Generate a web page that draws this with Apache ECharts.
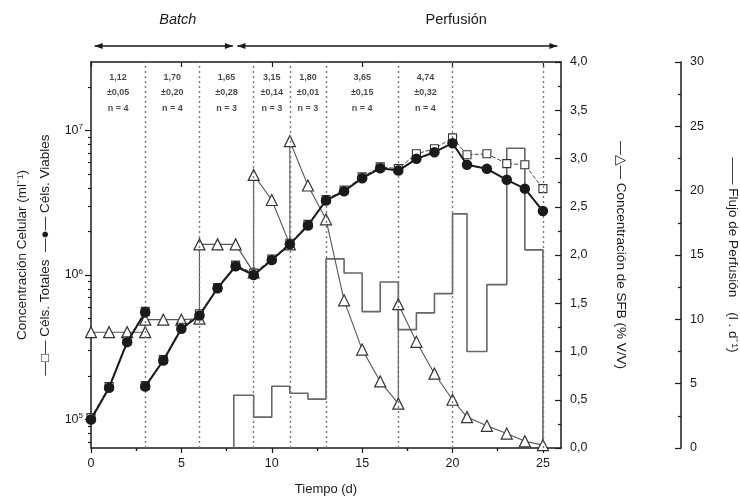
<!DOCTYPE html>
<html><head><meta charset="utf-8">
<script src="https://cdn.jsdelivr.net/npm/echarts@6/dist/echarts.min.js"></script>
<style>html,body{margin:0;padding:0;background:#fff}#c{width:740px;height:503px}</style>
</head><body><div id="c"></div>
<script>
// ---- data ----
// Viable cells (ml^-1), two cultures (split at day 3)
const viableDaysA = [0, 1, 2, 3];
const viableA = [1.0e5, 1.66e5, 3.43e5, 5.53e5];
const viableDaysB = [3, 4, 5, 6, 7, 8, 9, 10, 11, 12, 13, 14, 15, 16, 17, 18, 19, 20, 20.8, 21.9, 23, 24, 25];
const viableB = [1.69e5, 2.56e5, 4.25e5, 5.25e5, 8.1e5, 1.15e6, 1.0e6, 1.27e6, 1.63e6, 2.2e6, 3.28e6, 3.8e6, 4.68e6, 5.48e6, 5.28e6, 6.37e6, 7.08e6, 8.17e6, 5.8e6, 5.43e6, 4.56e6, 3.96e6, 2.77e6];
// Total cells (ml^-1)
const totalA = [1.03e5, 1.69e5, 3.5e5, 5.6e5];
const totalB = [1.72e5, 2.6e5, 4.35e5, 5.4e5, 8.2e5, 1.17e6, 1.03e6, 1.29e6, 1.66e6, 2.24e6, 3.33e6, 3.88e6, 4.78e6, 5.6e6, 5.45e6, 6.9e6, 7.47e6, 8.9e6, 6.8e6, 6.9e6, 5.9e6, 5.8e6, 3.96e6];
// SFB concentration (% V/V)
const sfbDays = [0, 1, 2, 3, 3, 4, 5, 6, 6, 7, 8, 9, 9, 10, 11, 11, 12, 13, 14, 15, 16, 17, 17, 18, 19, 20, 20.8, 21.9, 23, 24, 25];
const sfbValues = [1.2, 1.2, 1.2, 1.2, 1.33, 1.33, 1.33, 1.34, 2.11, 2.11, 2.11, 1.82, 2.83, 2.57, 2.11, 3.18, 2.72, 2.37, 1.53, 1.02, 0.69, 0.46, 1.49, 1.10, 0.77, 0.50, 0.32, 0.23, 0.15, 0.07, 0.03];
// Perfusion flow (l . d^-1), step changes
const flowDays = [7.9, 7.9, 9, 10, 11, 12, 13, 14, 15, 16, 17, 18, 19, 20, 20.8, 21.9, 23, 24, 25];
const flowRates = [0, 4.1, 2.4, 4.8, 4.25, 3.8, 14.7, 13.6, 10.6, 12.9, 9.2, 10.5, 12.0, 18.2, 7.5, 12.7, 23.3, 15.4, 0];
// Phase boundaries (dotted lines) and statistics per phase
const phaseBounds = [0, 3, 6, 9, 11, 13, 17, 20, 25];
const phaseMean = ['1,12', '1,70', '1,65', '3,15', '1,80', '3,65', '4,74'];
const phaseSD = ['±0,05', '±0,20', '±0,28', '±0,14', '±0,01', '±0,15', '±0,32'];
const phaseN = ['n = 4', 'n = 4', 'n = 3', 'n = 3', 'n = 3', 'n = 4', 'n = 4'];
// Axis ticks
const xMajor = [0, 5, 10, 15, 20, 25];
const xMinor = [2.5, 7.5, 12.5, 17.5, 22.5];
const logMajor = [1e5, 1e6, 1e7];
const logMinor = [7e4, 8e4, 9e4, 2e5, 3e5, 4e5, 5e5, 6e5, 7e5, 8e5, 9e5, 2e6, 3e6, 4e6, 5e6, 6e6, 7e6, 8e6, 9e6, 2e7];

// ---- chart ----
const zip = (a, b) => a.map((v, i) => [v, b[i]]);
const FONT = "'Liberation Sans', Arial, sans-serif";
const INK = '#1a1a1a';
const LOGMIN = 63500, LOGMAX = 2.98e7;
const axisLine = { show: true, onZero: false, lineStyle: { color: INK, width: 1.5 } };
const tickStyle = { color: INK, width: 1.2 };
const chart = echarts.init(document.getElementById('c'));

const centers = phaseMean.map((_, i) => (phaseBounds[i] + phaseBounds[i + 1]) / 2);

const option = {
  animation: false,
  backgroundColor: '#fff',
  textStyle: { fontFamily: FONT },
  grid: { left: 91, right: 179, top: 62, bottom: 55, containLabel: false, outerBoundsMode: 'none' },
  xAxis: [
    { type: 'value', min: 0, max: 26, position: 'bottom', axisLine,
      axisTick: { show: true, length: 5, lineStyle: tickStyle, customValues: xMajor },
      axisLabel: { customValues: xMajor, color: INK, fontSize: 12.5, margin: 9, fontFamily: FONT },
      splitLine: { show: false },
      name: 'Tiempo (d)', nameLocation: 'middle', nameGap: 35, nameMoveOverlap: false,
      nameTextStyle: { color: INK, fontSize: 13, fontFamily: FONT } },
    { type: 'value', min: 0, max: 26, position: 'bottom', axisLine: { show: false },
      axisTick: { show: true, length: 3, lineStyle: tickStyle, customValues: xMinor },
      axisLabel: { show: false }, splitLine: { show: false } },
    { type: 'value', min: 0, max: 26, position: 'top', axisLine,
      axisTick: { show: true, inside: true, length: 5, lineStyle: tickStyle, customValues: xMajor },
      axisLabel: { show: false }, splitLine: { show: false } },
    { type: 'value', min: 0, max: 26, position: 'top', axisLine: { show: false },
      axisTick: { show: true, inside: true, length: 3, lineStyle: tickStyle, customValues: xMinor },
      axisLabel: { show: false }, splitLine: { show: false } }
  ],
  yAxis: [
    { type: 'log', logBase: 10, min: LOGMIN, max: LOGMAX, position: 'left', axisLine,
      axisTick: { show: true, length: 6, lineStyle: tickStyle, customValues: logMajor },
      axisLabel: { customValues: logMajor, margin: 8, color: INK,
        formatter: v => '{b|10}{s|' + Math.round(Math.log10(v)) + '}',
        rich: { b: { fontSize: 12.5, color: INK, fontFamily: FONT },
                s: { fontSize: 8, color: INK, fontFamily: FONT, padding: [0, 0, 7, 0] } } },
      splitLine: { show: false },
      name: 'Concentración Celular (ml⁻¹)\n—□— Céls. Totales  —●— Céls. Viables',
      nameLocation: 'middle', nameRotate: 90, nameGap: 34, nameMoveOverlap: false,
      nameTextStyle: { color: INK, fontSize: 13.5, lineHeight: 23, fontFamily: FONT } },
    { type: 'log', logBase: 10, min: LOGMIN, max: LOGMAX, position: 'left', axisLine: { show: false },
      axisTick: { show: true, length: 3, lineStyle: tickStyle, customValues: logMinor },
      axisLabel: { show: false }, splitLine: { show: false } },
    { type: 'value', min: 0, max: 4, interval: 0.5, position: 'right', axisLine,
      axisTick: { show: true, inside: true, length: 6, lineStyle: tickStyle },
      minorTick: { show: true, splitNumber: 2, length: 3, lineStyle: tickStyle },
      axisLabel: { formatter: v => v.toFixed(1).replace('.', ','), color: INK, fontSize: 12.5, margin: 9, fontFamily: FONT },
      splitLine: { show: false },
      name: '—△— Concentración de SFB (% V/V)', nameLocation: 'middle', nameRotate: -90, nameGap: 53,
      nameTextStyle: { color: INK, fontSize: 13.5, fontFamily: FONT } },
    { type: 'value', min: 0, max: 30, interval: 5, position: 'right', offset: 120, axisLine,
      axisTick: { show: true, inside: true, length: 6, lineStyle: tickStyle },
      minorTick: { show: true, splitNumber: 2, length: 3, lineStyle: tickStyle },
      axisLabel: { color: INK, fontSize: 12.5, margin: 9, fontFamily: FONT },
      splitLine: { show: false },
      name: '—— Flujo de Perfusión    (l . d⁻¹)', nameLocation: 'middle', nameRotate: -90, nameGap: 45,
      nameTextStyle: { color: INK, fontSize: 13.5, fontFamily: FONT } }
  ],
  series: [
    { name: 'Flujo', type: 'line', xAxisIndex: 0, yAxisIndex: 3, step: 'end', showSymbol: false,
      data: zip(flowDays, flowRates), lineStyle: { color: '#666', width: 1.6 }, z: 1,
      markLine: { silent: true, symbol: ['none', 'none'], label: { show: false },
        lineStyle: { type: [2, 3], color: '#777', width: 1.4 },
        data: phaseBounds.slice(1).map(b => ({ xAxis: b })) } },
    { name: 'SFB', type: 'line', xAxisIndex: 0, yAxisIndex: 2, data: zip(sfbDays, sfbValues),
      symbol: 'triangle', symbolSize: 11, showAllSymbol: true,
      lineStyle: { color: '#555', width: 1.1 },
      itemStyle: { color: '#fff', borderColor: '#333', borderWidth: 1.2 }, z: 3 },
    { name: 'TotA', type: 'line', xAxisIndex: 0, yAxisIndex: 0, data: zip(viableDaysA, totalA),
      symbol: 'rect', symbolSize: 8, lineStyle: { color: '#444', width: 1, type: [4, 2] },
      itemStyle: { color: '#fff', borderColor: '#333', borderWidth: 1.1 }, z: 4 },
    { name: 'TotB', type: 'line', xAxisIndex: 0, yAxisIndex: 0, data: zip(viableDaysB, totalB),
      symbol: 'rect', symbolSize: 8, lineStyle: { color: '#444', width: 1, type: [4, 2] },
      itemStyle: { color: '#fff', borderColor: '#333', borderWidth: 1.1 }, z: 4 },
    { name: 'VivA', type: 'line', xAxisIndex: 0, yAxisIndex: 0, data: zip(viableDaysA, viableA),
      symbol: 'circle', symbolSize: 10.5, lineStyle: { color: INK, width: 2 },
      itemStyle: { color: INK }, z: 5 },
    { name: 'VivB', type: 'line', xAxisIndex: 0, yAxisIndex: 0, data: zip(viableDaysB, viableB),
      symbol: 'circle', symbolSize: 10.5, lineStyle: { color: INK, width: 2 },
      itemStyle: { color: INK }, z: 5 },
    { name: 'Stats', type: 'scatter', xAxisIndex: 0, yAxisIndex: 2, symbolSize: 0, silent: true,
      data: centers.map((c, i) => ({ value: [c, 3.68], txt: phaseMean[i] + '\n' + phaseSD[i] + '\n' + phaseN[i] })),
      label: { show: true, position: 'inside', color: INK, fontSize: 9, fontWeight: 'bold', lineHeight: 15.5, fontFamily: FONT,
        formatter: p => p.data.txt }, z: 6 }
  ]
};
chart.setOption(option);

// header: phase names with double arrows, positioned from the x axis
const X = d => chart.convertToPixel({ xAxisIndex: 0 }, d);
const yArrow = 46, yTitle = 20, ah = 8, aw = 3;
function arrow(d0, d1) {
  const x0 = X(d0), x1 = X(d1);
  return [
    { type: 'line', shape: { x1: x0, y1: yArrow, x2: x1, y2: yArrow }, style: { stroke: INK, lineWidth: 1.5 } },
    { type: 'polygon', shape: { points: [[x0, yArrow], [x0 + ah, yArrow - aw], [x0 + ah, yArrow + aw]] }, style: { fill: INK } },
    { type: 'polygon', shape: { points: [[x1, yArrow], [x1 - ah, yArrow - aw], [x1 - ah, yArrow + aw]] }, style: { fill: INK } }
  ];
}
chart.setOption({
  graphic: [
    ...arrow(0.2, 7.85), ...arrow(8.1, 25.8),
    { type: 'text', x: X(4.8), y: yTitle, style: { text: 'Batch', fontSize: 14.5, fontStyle: 'italic', fontFamily: FONT, fill: INK, textAlign: 'center', textVerticalAlign: 'middle' } },
    { type: 'text', x: X(20.2), y: yTitle, style: { text: 'Perfusión', fontSize: 14.5, fontFamily: FONT, fill: INK, textAlign: 'center', textVerticalAlign: 'middle' } }
  ]
});
</script></body></html>
